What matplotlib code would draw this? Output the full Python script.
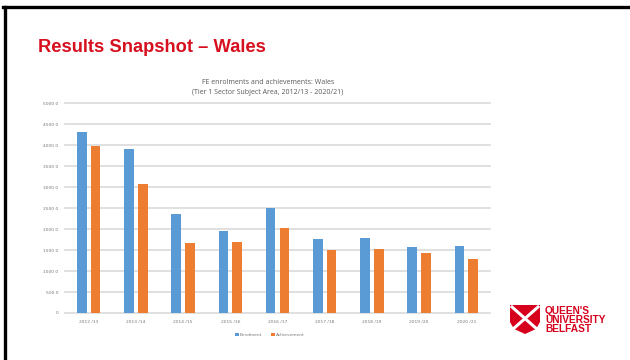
import matplotlib
matplotlib.use("Agg")
import matplotlib.pyplot as plt
import numpy as np
from matplotlib.patches import Polygon
from matplotlib.lines import Line2D

categories = ["2012 /13", "2013 /14", "2014 /15", "2015 /16", "2016 /17",
              "2017 /18", "2018 /19", "2019 /20", "2020 /21"]
enrolment = [4310, 3900, 2350, 1950, 2505, 1760, 1800, 1570, 1600]
achievement = [3975, 3085, 1675, 1690, 2030, 1500, 1515, 1420, 1285]
y_ticks = [0, 500, 1000, 1500, 2000, 2500, 3000, 3500, 4000, 4500, 5000]
y_tick_labels = ["0", "500 0", "1000 0", "1500 0", "2000 0", "2500 0",
                 "3000 0", "3500 0", "4000 0", "4500 0", "5000 0"]
series_names = ["Enrolment", "Achievement"]

W, H = 630, 360
fig = plt.figure(figsize=(6.3, 3.6), dpi=100)
fig.patch.set_facecolor("white")

def fx(px):
    return px / W

def fy(py):
    return 1 - py / H

# slide border (left and top)
fig.add_artist(Line2D([fx(4.5), fx(4.5)], [fy(6.5), 0], color="black", lw=2.4,
                      transform=fig.transFigure))
fig.add_artist(Line2D([fx(3.3), 1], [fy(6.5), fy(6.5)], color="black", lw=2.4,
                      transform=fig.transFigure))

# slide title
fig.text(fx(38), fy(48), "Results Snapshot \u2013 Wales", color="#D7101F",
         fontsize=13.2, fontweight="bold", family="Liberation Sans",
         ha="left", va="center")

# chart title
fig.text(fx(268), fy(82), "FE enrolments and achievements: Wales", color="#595959",
         fontsize=5.0, ha="center", va="center", family="Open Sans")
fig.text(fx(268), fy(93), "(Tier 1 Sector Subject Area, 2012/13 - 2020/21)", color="#595959",
         fontsize=5.0, ha="center", va="center", family="Open Sans")

ax = fig.add_axes([fx(65), fy(313), fx(490) - fx(65), fy(103.3) - fy(313)])
x = np.arange(len(categories))
bw = 0.205
gap = 0.085
ax.bar(x - (bw + gap) / 2, enrolment, width=bw, color="#5B9BD5", zorder=3,
       label=series_names[0])
ax.bar(x + (bw + gap) / 2, achievement, width=bw, color="#ED7D31", zorder=3,
       label=series_names[1])
ax.set_xlim(-0.5, len(categories) - 0.5)
ax.set_ylim(0, 5000)
ax.set_yticks(y_ticks)
ax.set_yticklabels(y_tick_labels)
ax.set_xticks(x)
ax.set_xticklabels(categories)
ax.tick_params(axis="both", length=0, labelsize=3.2, labelcolor="#777777")
ax.tick_params(axis="y", pad=5)
ax.tick_params(axis="x", pad=5)
for s in ax.spines.values():
    s.set_visible(False)
ax.grid(axis="y", color="#DDDDDD", lw=1.3, zorder=0)
for gl in ax.get_ygridlines():
    gl.set_clip_on(False)
ax.set_axisbelow(True)

leg = fig.legend(loc="center", bbox_to_anchor=(fx(270), fy(335)), ncol=2, frameon=False,
                 fontsize=3.2, handlelength=0.8, handleheight=0.8, handletextpad=0.3,
                 columnspacing=2.0, labelcolor="#777777")

# QUB logo
red = "#D6001C"
shield = [(510, 305), (540, 305), (540, 322), (536, 329), (525, 334),
          (514, 329), (510, 322)]
fig.add_artist(Polygon([(fx(a), fy(b)) for a, b in shield], closed=True,
                       facecolor=red, edgecolor="none", transform=fig.transFigure))
fig.add_artist(Line2D([fx(512), fx(538)], [fy(307), fy(330)], color="white", lw=2.2,
                      transform=fig.transFigure))
fig.add_artist(Line2D([fx(538), fx(512)], [fy(307), fy(330)], color="white", lw=2.2,
                      transform=fig.transFigure))
for t, yy in [("QUEEN'S", 311), ("UNIVERSITY", 320), ("BELFAST", 329)]:
    fig.text(fx(545), fy(yy), t, color=red, fontsize=7.3, fontweight="bold",
             family="Liberation Sans", ha="left", va="center")

fig.savefig("out.png", dpi=100, facecolor="white")
